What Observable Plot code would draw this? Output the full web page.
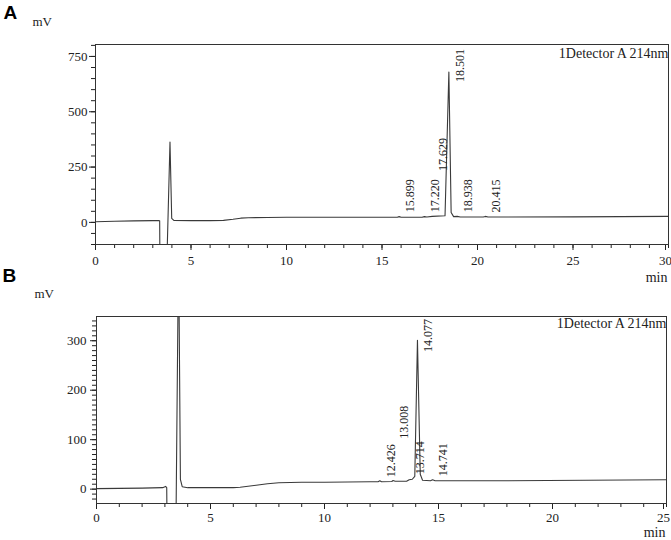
<!DOCTYPE html>
<html>
<head>
<meta charset="utf-8">
<script src="https://cdn.jsdelivr.net/npm/d3@7"></script>
<script src="https://cdn.jsdelivr.net/npm/@observablehq/plot@0.6"></script>
<style>
  body { margin: 0; background: #fff; }
  #chart { width: 671px; height: 540px; }
  #chart svg { display: block; overflow: visible; }
  #chart svg text { font-family: "Liberation Serif", "Times New Roman", serif !important; font-variant: normal !important; }
  #chart svg g[font-weight="bold"] text { font-family: "Liberation Sans", Arial, sans-serif !important; }
</style>
</head>
<body>
<div id="chart"></div>
<script>
// ---------- Panel A chromatogram (time in min, signal in mV) ----------
const timeA   = [0, 1, 2, 3, 3.30, 3.36, 3.38, 3.70, 3.90, 3.99, 4.10, 5, 6, 6.70, 7.20, 7.60, 8, 9, 10, 12, 14, 15.80, 15.899, 16.00, 17.10, 17.220, 17.35, 17.629, 18.30, 18.501, 18.62, 18.75, 18.938, 19.10, 20.30, 20.415, 20.55, 25, 30];
const signalA = [3, 5, 7, 8, 8, 7, -300, -300, 363, 18, 9, 8, 8, 9, 14, 19, 21, 22, 23, 23, 23, 23, 26, 23, 23, 26, 24, 27, 30, 680, 45, 26, 27, 24, 24, 27, 24, 25, 27];
const peakRtA      = [15.899, 17.220, 17.629, 18.501, 18.938, 20.415];
const peakLabelMvA = [46, 46, 232, 634, 46, 45];
const xTicksA = [0, 5, 10, 15, 20, 25, 30];
const yTicksA = [0, 250, 500, 750];

// ---------- Panel B chromatogram ----------
const timeB   = [0, 1, 2, 2.90, 3.03, 3.08, 3.10, 3.48, 3.60, 3.68, 3.76, 4, 5, 6, 6.30, 7, 7.50, 8, 9, 10, 12, 12.35, 12.426, 12.50, 12.95, 13.008, 13.10, 13.60, 13.714, 13.85, 13.96, 14.077, 14.20, 14.30, 14.65, 14.741, 14.85, 18, 25];
const signalB = [1, 1.5, 2, 3, 5.5, 3, -100, -100, 500, 20, 5, 3, 3, 3, 4, 8, 11, 13, 14, 14, 15, 15, 17, 15, 15.5, 17.5, 16, 16, 19, 20, 26, 301, 30, 18, 17, 19, 17, 17, 19];
const peakRtB      = [12.426, 13.008, 13.714, 14.077, 14.741];
const peakLabelMvB = [24, 102, 30, 277, 26];
const xTicksB = [0, 5, 10, 15, 20, 25];
const yTicksB = [0, 100, 200, 300];

const detectorLabel = "1Detector A 214nm";
const panelLetters = ["A", "B"];

const serif = "Liberation Serif, Times New Roman, serif";
const sans = "Liberation Sans, Arial, sans-serif";
const ink = "#222";
const fmt = d3.format(".3f");

function panel({time, signal, peakRt, peakLabelMv, xTicks, yTicks, xDomain, yDomain, yMinorStep,
                height, marginTop, marginBottom, marginLeft, marginRight, xPad, yPad, detDy, mvDx, mvDy, minDy, extra = []}) {
  const trace = time.map((t, i) => ({t, v: signal[i]}));
  const peaks = peakRt.map((t, i) => ({t, v: peakLabelMv[i], label: fmt(t)}));
  const xMinor = d3.range(xDomain[0], xDomain[1] + 0.001, 1);
  const yMinor = d3.range(Math.ceil(yDomain[0] / yMinorStep) * yMinorStep, yDomain[1], yMinorStep);
  const xMain = xTicks.slice(0, -1);
  const xLast = xTicks.slice(-1);
  const txt = {fontFamily: serif, fill: ink};
  const marks = [
    Plot.axisX(xMinor, {tickSize: 4, fill: "none", stroke: ink}),
    Plot.axisY(yMinor, {tickSize: 4, fill: "none", stroke: ink}),
    Plot.axisX(xMain, {tickSize: 6, tickPadding: xPad, label: null, fontSize: 13, stroke: ink, ...txt}),
    Plot.axisX(xLast, {tickSize: 6, tickPadding: xPad, label: null, fontSize: 13, stroke: ink, dx: -3, ...txt}),
    Plot.axisY(yTicks, {tickSize: 6, tickPadding: yPad, label: null, fontSize: 13, stroke: ink, ...txt}),
    Plot.line(trace, {x: "t", y: "v", stroke: "#3a3a3a", strokeWidth: 1.1, clip: true}),
    Plot.text(peaks, {x: "t", y: "v", text: "label", rotate: -90, textAnchor: "start", dx: 11, fontSize: 12, ...txt}),
    Plot.frame({stroke: "#333"}),
    Plot.text([detectorLabel], {frameAnchor: "top-right", textAnchor: "end", lineAnchor: "middle", dy: detDy, fontSize: 14, ...txt}),
    Plot.text(["mV"], {frameAnchor: "top-left", textAnchor: "start", lineAnchor: "middle", dx: mvDx, dy: mvDy, fontSize: 13, ...txt}),
    Plot.text(["min"], {frameAnchor: "bottom-right", textAnchor: "end", lineAnchor: "middle", dx: -1, dy: minDy, fontSize: 14, ...txt}),
    ...extra.map(l => Plot.text([l.text], {frameAnchor: l.anchor, textAnchor: "start", lineAnchor: "top", dx: l.dx, dy: l.dy, fontSize: 19, fontWeight: "bold", fontFamily: sans, fill: "#000"}))
  ];
  return Plot.plot({
    width: 671, height, marginTop, marginBottom, marginLeft, marginRight,
    style: {fontFamily: serif, fontSize: "13px", color: ink, background: "transparent", overflow: "visible"},
    x: {domain: xDomain, axis: null},
    y: {domain: yDomain, axis: null},
    marks
  });
}

const plotA = panel({
  time: timeA, signal: signalA, peakRt: peakRtA, peakLabelMv: peakLabelMvA,
  xTicks: xTicksA, yTicks: yTicksA, xDomain: [0, 30], yDomain: [-100, 804], yMinorStep: 50,
  height: 285, marginTop: 44, marginBottom: 41, marginLeft: 95, marginRight: 3,
  xPad: 5, yPad: 2, detDy: 9.5, mvDx: -63, mvDy: -22.5, minDy: 33,
  extra: [
    {text: panelLetters[0], anchor: "top-left", dx: -92, dy: -39},
    {text: panelLetters[1], anchor: "bottom-left", dx: -93, dy: 24}
  ]
});

const plotB = panel({
  time: timeB, signal: signalB, peakRt: peakRtB, peakLabelMv: peakLabelMvB,
  xTicks: xTicksB, yTicks: yTicksB, xDomain: [0, 25], yDomain: [-29, 349], yMinorStep: 10,
  height: 255, marginTop: 31, marginBottom: 37, marginLeft: 96, marginRight: 5,
  xPad: 3.5, yPad: 4, detDy: 7.5, mvDx: -62, mvDy: -22.7, minDy: 29.5
});

const chart = document.getElementById("chart");
chart.appendChild(plotA);
chart.appendChild(plotB);
</script>
</body>
</html>
